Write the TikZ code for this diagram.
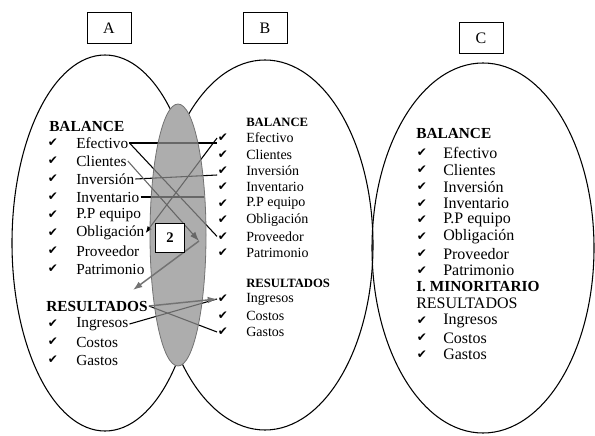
\documentclass[tikz,border=0pt]{standalone}
\usepackage{fontspec}
\setmainfont{Liberation Serif}
\newfontfamily\symfont{DejaVu Sans}
\usetikzlibrary{arrows.meta}

\tikzset{
  txta/.style={anchor=west,inner sep=0.75pt,font=\fontsize{11.5}{12}\selectfont},
  txtb/.style={anchor=west,inner sep=0.75pt,font=\fontsize{10.5}{11}\selectfont},
  txtc/.style={anchor=west,inner sep=0.75pt,font=\fontsize{12}{12}\selectfont},
  heada/.style={anchor=west,inner sep=0.75pt,font=\fontsize{11.5}{12}\selectfont\bfseries},
  headb/.style={anchor=west,inner sep=0.75pt,font=\fontsize{9.5}{10}\selectfont\bfseries},
  headc/.style={anchor=west,inner sep=0.75pt,font=\fontsize{11.5}{12}\selectfont\bfseries},
  tick/.style={inner sep=0.5pt,font=\symfont\fontsize{9}{10}\selectfont},
  tagbox/.style={draw,minimum width=33pt,minimum height=23pt,inner sep=0pt,font=\fontsize{12}{12}\selectfont},
  link/.style={line width=0.8pt},
  glink/.style={line width=1.1pt,draw=black!55,-{Latex[length=7pt,width=5pt]}},
  lensfill/.style={fill=black!32},
}

\begin{document}
\begin{tikzpicture}[x=0.75pt,y=0.75pt,yscale=-1,xscale=1]
\useasboundingbox (0,0) rectangle (595,435);

%Shape: Ellipses
\draw[line width=0.8pt] (105,243) ellipse [x radius=93,y radius=188];
\draw[line width=0.8pt] (265,245) ellipse [x radius=108,y radius=185];
\draw[line width=0.8pt] (483,248) ellipse [x radius=111,y radius=185];
%Shape: intersection
\fill[lensfill] (178,235) ellipse [x radius=28,y radius=131];

% Letter boxes
\node[tagbox] (tA) at (109,28) {A};
\node[tagbox] (tB) at (265,28) {B};
\node[tagbox] (tC) at (481,38) {C};

% Column A
\node[heada] (aH) at (48,126) {BALANCE};
\foreach \t [count=\i] in {Efectivo,Clientes,Inversión,Inventario,P.P equipo,Obligación,Proveedor,Patrimonio}{
  \node[tick] (ac\i) at (53,{143+18*(\i-1)}) {✔};
  \node[txta] (a\i) at (75,{143+18*(\i-1)}) {\t};
}
\node[heada] (aR) at (45,306) {RESULTADOS};
\foreach \t [count=\i] in {Ingresos,Costos,Gastos}{
  \node[tick] (aic\i) at (53,{324+18*(\i-1)}) {✔};
  \node[txta] (ai\i) at (75,{324+18*(\i-1)}) {\t};
}

% Column B
\node[headb] (bH) at (245,122) {BALANCE};
\foreach \t [count=\i] in {Efectivo,Clientes,Inversión,Inventario,P.P equipo,Obligación,Proveedor,Patrimonio}{
  \node[tick] (bc\i) at (223,{138+16.4*(\i-1)}) {✔};
  \node[txtb] (b\i) at (245,{138+16.4*(\i-1)}) {\t};
}
\node[headb] (bR) at (245,283) {RESULTADOS};
\foreach \t [count=\i] in {Ingresos,Costos,Gastos}{
  \node[tick] (bic\i) at (223,{299+16.5*(\i-1)}) {✔};
  \node[txtb] (bi\i) at (245,{299+16.5*(\i-1)}) {\t};
}

% Column C
\node[headc] (cH) at (415,133) {BALANCE};
\foreach \t [count=\i] in {Efectivo,Clientes,Inversión,Inventario,P.P equipo,Obligación,Proveedor,Patrimonio}{
  \node[tick] (cc\i) at (422,{153+16.8*(\i-1)}) {✔};
  \node[txtc] (c\i) at (442,{153+16.8*(\i-1)}) {\t};
}
\node[headc] (cM) at (415,287) {I. MINORITARIO};
\node[txtc] (cR) at (415,303) {RESULTADOS};
\foreach \t [count=\i] in {Ingresos,Costos,Gastos}{
  \node[tick] (cic\i) at (422,{321+16.8*(\i-1)}) {✔};
  \node[txtc] (ci\i) at (442,{321+16.8*(\i-1)}) {\t};
}

% Links between A and B
\coordinate (tip) at (199,241);
\coordinate (aim) at (133,290);
\draw[link] (a1.east) -- (a1.east -| bc1.west);
\draw[link] (a1.east) -- (bc7.west);
\draw[link,-{Latex[length=5pt,width=4pt]}] (bc1.west) -- (a6.east);
\draw[link] (a3.east) -- ([yshift=-3]a3.east -| bc4.west);
\draw[link,shorten >=10pt] (a4.east) -- (a4.east -| bc4.west);
\draw[link] (ai1.east) -- (bic1.west);
\draw[link] (aR.east) -- (bic3.west);

% faded part inside the intersection
\fill[lensfill,fill opacity=0.6] (178,235) ellipse [x radius=28,y radius=131];
\draw[black!55,line width=0.6pt] (178,235) ellipse [x radius=28,y radius=131];

\draw[link,draw=black!60,-{Latex[length=7pt,width=5pt]}] (a2.east) -- (tip);
\draw[glink] (tip) -- (aim);
\draw[glink] (aR.east) -- (bic1.west);

\node[draw,fill=white,minimum width=22pt,minimum height=22pt,inner sep=0pt,font=\fontsize{11}{11}\selectfont\bfseries] (two) at (170,238) {2};

\end{tikzpicture}
\end{document}
